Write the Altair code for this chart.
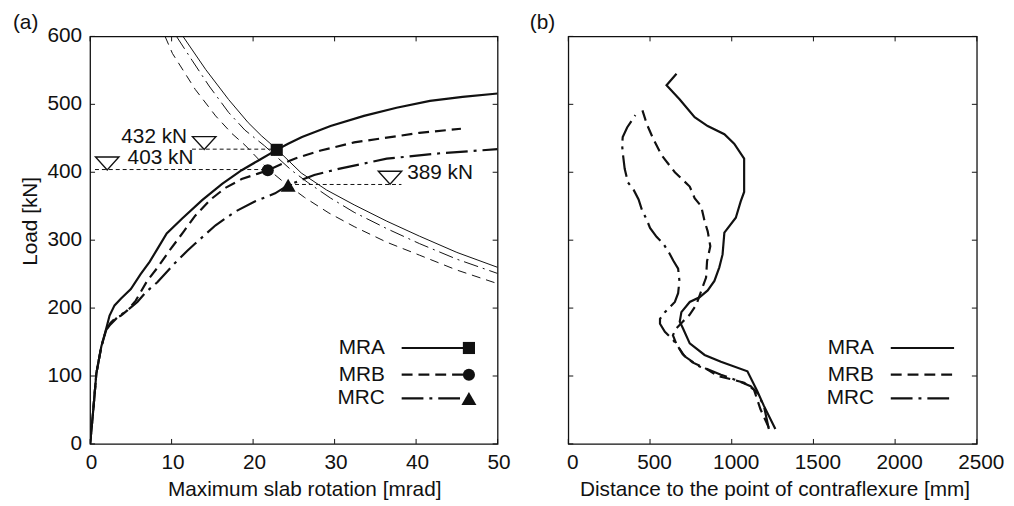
import altair as alt
import pandas as pd

FONT = "Liberation Sans"
INK = "#111111"

# ---------------- panel (a): load vs. maximum slab rotation ----------------
mra_rot = [0, 0.36, 0.77, 1.37, 1.98, 2.39, 3.0, 3.8, 5.0, 6.2, 7.3, 8.3, 9.4, 11.3, 13.75,
           16.2, 18.6, 20.6, 22.9, 24.3, 26.0, 29.5, 33.6, 37.6, 41.7, 45.7, 50]
mra_load = [0, 46, 104, 143, 170, 189, 204, 214, 228, 250, 268, 288, 310, 332, 359,
            383, 403, 417, 433, 442, 452, 468, 483, 495, 505, 511, 516]

mrb_rot = [0, 0.36, 0.77, 1.37, 1.98, 2.5, 3.0, 3.8, 4.6, 5.6, 7.0, 8.3, 9.7, 11.5, 12.9,
           14.8, 16.6, 18.6, 20.6, 21.8, 23.5, 25.1, 28.3, 32.4, 36.4, 40.4, 45.5]
mrb_load = [0, 46, 104, 143, 168, 178, 184, 189, 197, 211, 240, 260, 284, 313, 336,
            360, 377, 390, 398, 403, 412, 420, 432, 444, 451, 458, 464]

mrc_rot = [0, 0.36, 0.77, 1.37, 1.98, 2.5, 3.4, 4.6, 5.8, 6.8, 8.25, 10.3, 11.9, 12.9, 14.1,
           15.4, 17.8, 20.2, 22.7, 24.3, 27.5, 30.5, 36.4, 43.0, 50]
mrc_load = [0, 46, 104, 143, 168, 176, 187, 197, 209, 223, 238, 265, 284, 295, 308,
            322, 342, 357, 369, 381, 396, 405, 420, 428, 434]

# thin failure-criterion curves
crit_solid_rot = [11.4, 14.2, 17.0, 19.4, 21.0, 22.9, 25.9, 29.0, 32.4, 36.4, 40.4, 45.0, 50]
crit_solid_load = [600, 551, 507, 473, 454, 434, 399, 374, 352, 328, 306, 282, 260]
crit_dashdot_rot = [10.6, 12.5, 14.6, 17.0, 19.0, 21.4, 24.7, 26.7, 29.5, 32.4, 36.4, 40.4, 45.0, 50]
crit_dashdot_load = [600, 565, 527, 488, 462, 439, 403, 385, 362, 341, 317, 295, 272, 251]
crit_dashed_rot = [9.2, 10.1, 12.9, 15.4, 17.4, 19.0, 21.8, 23.5, 26.3, 29.3, 32.4, 36.4, 40.4, 45.0, 50]
crit_dashed_load = [600, 575, 522, 483, 457, 440, 405, 388, 363, 340, 320, 297, 278, 256, 236]

# intersection markers
marker_rot = [22.9, 21.8, 24.3]
marker_load = [433, 403, 381]
marker_shapes = ["square", "circle", "triangle-up"]
marker_sizes = [150, 150, 230]

# annotations
ann_labels = ["432 kN", "403 kN", "389 kN"]
ann_text_rot = [11.9, 4.6, 38.9]
ann_text_load = [452, 421, 399]
ann_text_align = ["right", "left", "left"]
ann_tri_rot = [14.0, 2.1, 36.8]
ann_tri_load = [443, 413, 392]
ann_line_from = [12.5, 0.6, 24.3]
ann_line_to = [22.9, 21.8, 38.2]
ann_line_load = [434, 404, 382]

# ---------------- panel (b): load vs. distance to contraflexure ----------------
b_mra_dist = [1267, 1197, 1156, 1096, 934, 834, 743, 702, 682, 692, 743, 803, 853, 894, 924,
              944, 955, 1025, 1055, 1076, 1076, 1015, 955, 853, 773, 682, 601, 662]
b_mra_load = [22, 56, 78, 107, 121, 131, 148, 170, 180, 194, 209, 216, 226, 240, 260,
              279, 311, 333, 357, 371, 420, 442, 456, 468, 481, 507, 528, 545]

b_mrb_dist = [1227, 1176, 1136, 1076, 1000, 914, 834, 760, 700, 660, 640, 660, 700, 742, 783,
              813, 843, 849, 869, 853, 834, 813, 773, 743, 652, 571, 520, 480, 450]
b_mrb_load = [24, 51, 80, 90, 95, 100, 112, 120, 132, 148, 160, 170, 180, 190, 205,
              225, 245, 269, 291, 313, 328, 350, 362, 379, 400, 425, 449, 471, 494]

b_mrc_dist = [1227, 1197, 1156, 1116, 1015, 934, 864, 803, 712, 672, 642, 591, 561, 561, 591,
              652, 672, 680, 672, 642, 620, 581, 540, 500, 480, 450, 430, 400, 365, 345,
              335, 329, 333, 360, 410]
b_mrc_load = [22, 56, 75, 85, 95, 102, 109, 114, 129, 143, 153, 165, 177, 184, 194,
              209, 222, 240, 258, 270, 280, 295, 305, 318, 330, 345, 360, 374, 385, 405,
              425, 440, 452, 466, 484]

series = ["MRA", "MRB", "MRC"]

x_ticks_a = [0, 10, 20, 30, 40, 50]
x_ticks_b = [0, 500, 1000, 1500, 2000, 2500]
y_ticks = [0, 100, 200, 300, 400, 500, 600]

x_title_a = "Maximum slab rotation [mrad]"
x_title_b = "Distance to the point of contraflexure [mm]"
y_title_a = "Load [kN]"

# ---------------- styling ----------------
W, H = 412, 412
W_B = 413
FS = 21
THICK = 2.2
DASH = [11, 6]
DASHDOT = [22, 6, 3, 6]
THIN_DASH = [9, 6]
THIN_DASHDOT = [15, 5, 2, 5]
STYLES = {"MRA": None, "MRB": DASH, "MRC": DASHDOT}

y_scale = alt.Scale(domain=[0, 600], nice=False, zero=False)
xa_scale = alt.Scale(domain=[0, 50], nice=False, zero=False)
xb_scale = alt.Scale(domain=[0, 2500], nice=False, zero=False)


def seq(xs, ys):
    return pd.DataFrame({"x": xs, "y": ys, "i": list(range(len(xs)))})


def curve(xs, ys, xscale, dash=None, width=THICK):
    kw = dict(color=INK, strokeWidth=width, clip=True)
    if dash:
        kw["strokeDash"] = dash
    return alt.Chart(seq(xs, ys)).mark_line(**kw).encode(
        x=alt.X("x:Q", scale=xscale, axis=None),
        y=alt.Y("y:Q", scale=y_scale, axis=None),
        order="i:Q",
    )


def frame_ticks(xticks, xscale, width):
    tx = pd.DataFrame({"v": xticks})
    ty = pd.DataFrame({"v": y_ticks})
    L = 5
    xb = alt.Chart(tx).mark_rule(color=INK, strokeWidth=1).encode(
        x=alt.X("v:Q", scale=xscale, axis=None), y=alt.value(H), y2=alt.value(H - L))
    xt = alt.Chart(tx).mark_rule(color=INK, strokeWidth=1).encode(
        x=alt.X("v:Q", scale=xscale, axis=None), y=alt.value(0), y2=alt.value(L))
    yl = alt.Chart(ty).mark_rule(color=INK, strokeWidth=1).encode(
        y=alt.Y("v:Q", scale=y_scale, axis=None), x=alt.value(0), x2=alt.value(L))
    yr = alt.Chart(ty).mark_rule(color=INK, strokeWidth=1).encode(
        y=alt.Y("v:Q", scale=y_scale, axis=None), x=alt.value(width), x2=alt.value(width - L))
    return [xb, xt, yl, yr]


def x_axis_text(xticks, xscale, width, title, label_dx, title_dx):
    tx = pd.DataFrame({"v": xticks})
    labels = alt.Chart(tx).mark_text(
        align="center", baseline="middle", font=FONT, fontSize=FS, color=INK, dx=label_dx).encode(
        x=alt.X("v:Q", scale=xscale, axis=None), y=alt.value(H + 19), text="v:Q")
    ttl = alt.Chart(pd.DataFrame({"t": [title]})).mark_text(
        align="center", baseline="middle", font=FONT, fontSize=FS, color=INK).encode(
        x=alt.value(width / 2 + title_dx), y=alt.value(H + 47), text="t:N")
    return [labels, ttl]


def y_axis_text(title):
    ty = pd.DataFrame({"v": y_ticks})
    labels = alt.Chart(ty).mark_text(
        align="right", baseline="middle", font=FONT, fontSize=FS, color=INK).encode(
        y=alt.Y("v:Q", scale=y_scale, axis=None), x=alt.value(-8), text="v:Q")
    ttl = alt.Chart(pd.DataFrame({"t": [title]})).mark_text(
        align="center", baseline="middle", angle=270, font=FONT, fontSize=FS, color=INK).encode(
        x=alt.value(-60), y=alt.value(187), text="t:N")
    return [labels, ttl]


def legend(text_right, line_x1, line_x2, rows_y, with_markers):
    layers = []
    one = pd.DataFrame({"k": [0]})
    for name, ry, shp, sz in zip(series, rows_y, marker_shapes, marker_sizes):
        layers.append(alt.Chart(pd.DataFrame({"t": [name]})).mark_text(
            align="right", baseline="middle", font=FONT, fontSize=FS, color=INK).encode(
            text="t:N", x=alt.value(text_right), y=alt.value(ry)))
        kw = dict(color=INK, strokeWidth=THICK)
        if STYLES[name]:
            kw["strokeDash"] = STYLES[name]
        layers.append(alt.Chart(one).mark_rule(**kw).encode(
            x=alt.value(line_x1), x2=alt.value(line_x2), y=alt.value(ry)))
        if with_markers:
            layers.append(alt.Chart(one).mark_point(
                shape=shp, filled=True, color=INK, size=sz, opacity=1).encode(
                x=alt.value(line_x2), y=alt.value(ry)))
    return layers


def panel_label(txt, dx):
    return alt.Chart(pd.DataFrame({"t": [txt]})).mark_text(
        align="left", baseline="middle", font=FONT, fontSize=FS, color=INK).encode(
        text="t:N", x=alt.value(dx), y=alt.value(-14))


# ---------------- panel (a) ----------------
layers_a = [
    curve(mra_rot, mra_load, xa_scale, None),
    curve(mrb_rot, mrb_load, xa_scale, DASH),
    curve(mrc_rot, mrc_load, xa_scale, DASHDOT),
    curve(crit_solid_rot, crit_solid_load, xa_scale, None, 1.0),
    curve(crit_dashdot_rot, crit_dashdot_load, xa_scale, THIN_DASHDOT, 1.0),
    curve(crit_dashed_rot, crit_dashed_load, xa_scale, THIN_DASH, 1.0),
]

ann_lines = pd.DataFrame({"x1": ann_line_from, "x2": ann_line_to, "y": ann_line_load})
layers_a.append(alt.Chart(ann_lines).mark_rule(color=INK, strokeWidth=1, strokeDash=[4, 3]).encode(
    x=alt.X("x1:Q", scale=xa_scale, axis=None), x2="x2:Q",
    y=alt.Y("y:Q", scale=y_scale, axis=None)))

for r, l, shp, sz in zip(marker_rot, marker_load, marker_shapes, marker_sizes):
    layers_a.append(alt.Chart(pd.DataFrame({"x": [r], "y": [l]})).mark_point(
        shape=shp, filled=True, color=INK, size=sz, opacity=1).encode(
        x=alt.X("x:Q", scale=xa_scale, axis=None), y=alt.Y("y:Q", scale=y_scale, axis=None)))

tri = pd.DataFrame({"x": ann_tri_rot, "y": ann_tri_load})
layers_a.append(alt.Chart(tri).mark_point(
    shape="M -1 -0.55 L 1 -0.55 L 0 0.55 Z", filled=True, fill="white", stroke=INK,
    strokeWidth=1.4, size=560, opacity=1).encode(
    x=alt.X("x:Q", scale=xa_scale, axis=None), y=alt.Y("y:Q", scale=y_scale, axis=None)))

for lab, xr, yl, al in zip(ann_labels, ann_text_rot, ann_text_load, ann_text_align):
    layers_a.append(alt.Chart(pd.DataFrame({"t": [lab], "x": [xr], "y": [yl]})).mark_text(
        align=al, baseline="middle", font=FONT, fontSize=FS, color=INK).encode(
        text="t:N", x=alt.X("x:Q", scale=xa_scale, axis=None),
        y=alt.Y("y:Q", scale=y_scale, axis=None)))

layers_a += frame_ticks(x_ticks_a, xa_scale, W)
layers_a += x_axis_text(x_ticks_a, xa_scale, W, x_title_a, 1.5, 11)
layers_a += y_axis_text(y_title_a)
layers_a += legend(298, 315, 383, [315, 342, 366], True)
layers_a.append(panel_label("(a)", -78))

left = alt.layer(*layers_a).properties(width=W, height=H)

# ---------------- panel (b) ----------------
layers_b = [
    curve(b_mra_dist, b_mra_load, xb_scale, None),
    curve(b_mrb_dist, b_mrb_load, xb_scale, DASH),
    curve(b_mrc_dist, b_mrc_load, xb_scale, DASHDOT),
]
layers_b += frame_ticks(x_ticks_b, xb_scale, W_B)
layers_b += x_axis_text(x_ticks_b, xb_scale, W_B, x_title_b, 4.5, 2.5)
layers_b += legend(309, 326, 390, [315, 342, 366], False)
layers_b.append(panel_label("(b)", -39))

right = alt.layer(*layers_b).properties(width=W_B, height=H)

chart = alt.hconcat(left, right, spacing=17.5).properties(
    padding={"left": 4, "right": 0, "top": 0, "bottom": 0}
).configure_view(
    stroke=INK, strokeWidth=1.3
).configure_text(font=FONT)

chart.save("out.html", embed_options={"renderer": "svg", "actions": False})
